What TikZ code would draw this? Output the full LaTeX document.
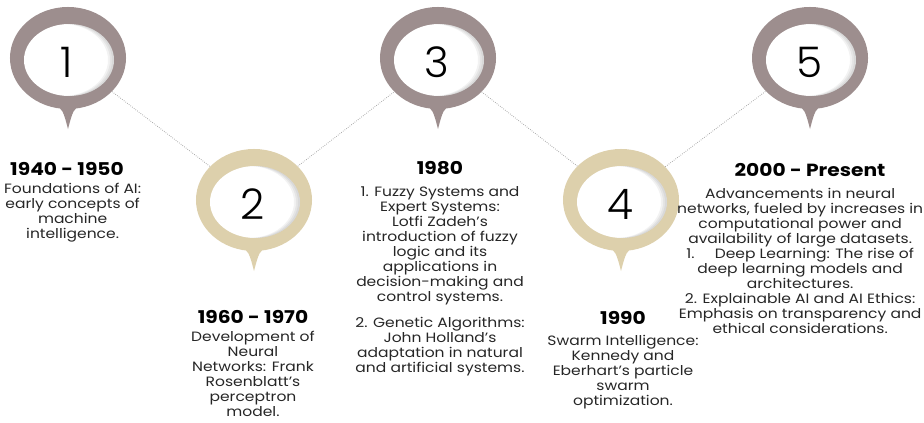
\documentclass[tikz,border=0pt]{standalone}
\usepackage{fontspec}
\setmainfont{Poppins}[FakeStretch=1.15]
\newfontfamily\numfont{Poppins Light}
\usetikzlibrary{shapes.geometric,positioning}
\definecolor{mauve}{RGB}{157,142,142}
\definecolor{sand}{RGB}{221,208,172}

\begin{document}
\begin{tikzpicture}[x=0.025cm, y=-0.025cm,
	ring style/.style={ellipse, minimum width=2.9cm, minimum height=2.55cm, inner sep=0pt},
	num style/.style={font=\numfont\fontsize{30}{30}\selectfont, inner sep=0pt},
	link style/.style={gray!70, line width=0.6pt, dash pattern=on 0.5pt off 1pt},
	year style/.style={font=\bfseries\fontsize{12.5}{14}\selectfont, inner sep=0pt},
	text style/.style={font=\fontsize{9.6}{10.67}\selectfont, align=center, inner sep=0pt, text=black!85}]
	\useasboundingbox (0,0) rectangle (924,422);
	% the five pins
	\foreach \n/\x/\y/\c in {1/68/58/mauve, 2/254/200/sand, 3/438/58/mauve, 4/621/200/sand, 5/810/58/mauve} {
		\fill[\c] (\x-15,\y+44) .. controls (\x-5,\y+52) .. (\x,\y+71) .. controls (\x+5,\y+52) .. (\x+15,\y+44) -- cycle;
		\node[ring style, fill=\c] (R\n) at (\x,\y) {};
		\fill[white] (\x+1,\y+2) ellipse [x radius=45, y radius=36];
		% soft shade on the inner right edge
		\begin{scope}
			\clip (\x+1,\y+2) ellipse [x radius=45, y radius=36];
			\foreach \d in {2,4,6}
			\fill[black, opacity=0.05, even odd rule] (\x-60,\y-50) rectangle (\x+60,\y+50) (\x+1-\d,\y+2) ellipse [x radius=45, y radius=36];
		\end{scope}
		\node[num style] (N\n) at (\x-1,\y+4) {\n};
	}
	\foreach \a/\b in {1/2,2/3,3/4,4/5}
	\draw[link style] (R\a) -- (R\b);
	% years and notes
	\node[year style] (Y1) at (67,169) {1940 - 1950};
	\node[text style, below=5pt of Y1, xshift=4pt] (T1) {Foundations of AI:\\early concepts of\\machine\\intelligence.};
	\node[year style] (Y2) at (253,317) {1960 - 1970};
	\node[text style, below=5pt of Y2] (T2) {Development of\\Neural\\Networks: Frank\\Rosenblatt's\\perceptron\\model.};
	\node[year style] (Y3) at (440,168) {1980};
	\node[text style, below=8pt of Y3] (T3) {1. Fuzzy Systems and\\Expert Systems:\\Lotfi Zadeh's\\introduction of fuzzy\\logic and its\\applications in\\decision-making and\\control systems.\\[8pt]2. Genetic Algorithms:\\John Holland's\\adaptation in natural\\and artificial systems.};
	\node[year style] (Y4) at (623,318) {1990};
	\node[text style, below=7pt of Y4] (T4) {Swarm Intelligence:\\Kennedy and\\Eberhart's particle\\swarm\\optimization.};
	\node[year style] (Y5) at (810,170) {2000 - Present};
	\node[text style, below=8pt of Y5, xshift=-7pt] (T5) {Advancements in neural\\networks, fueled by increases in\\computational power and\\availability of large datasets.\\1.\hspace{1.5em}Deep Learning: The rise of\\deep learning models and\\architectures.\\2. Explainable AI and AI Ethics:\\Emphasis on transparency and\\ethical considerations.};
\end{tikzpicture}
\end{document}
